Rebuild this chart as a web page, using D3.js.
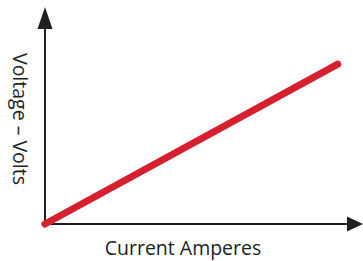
<!DOCTYPE html>
<html>
<head>
<meta charset="utf-8">
<script src="https://cdn.jsdelivr.net/npm/d3@7"></script>
<style>
  body { margin: 0; background: #fff; }
  text { font-family: "Open Sans", "Noto Sans", sans-serif; fill: #231f20; }
</style>
</head>
<body>
<svg></svg>
<script>
const size = { w: 363, h: 261 };
const margin = { t: 8, r: 13, b: 37, l: 45 };

// ohm's law line, current vs voltage (no units shown)
const current = [0, 9.6];
const voltage = [0, 7.4];
const xLabel = "Current Amperes";
const yLabel = "Voltage – Volts";

const svg = d3.select("svg").attr("width", size.w).attr("height", size.h);

const x = d3.scaleLinear().domain([0, 10]).range([margin.l, size.w - margin.r]);
const y = d3.scaleLinear().domain([0, 10]).range([size.h - margin.b, margin.t]);

const axisColor = "#231f20";
const x0 = x(0), y0 = y(0);

// axes with arrow heads
svg.append("line")
  .attr("x1", x0).attr("y1", y0 + 1)
  .attr("x2", x0).attr("y2", 22)
  .attr("stroke", axisColor).attr("stroke-width", 2);
svg.append("path")
  .attr("d", `M${x0},7 L${x0 - 7.5},29 L${x0 + 7.5},29 Z`)
  .attr("fill", axisColor);

svg.append("line")
  .attr("x1", x0 - 1).attr("y1", y0)
  .attr("x2", 352).attr("y2", y0)
  .attr("stroke", axisColor).attr("stroke-width", 2);
svg.append("path")
  .attr("d", `M363,${y0} L347,${y0 - 7.5} L347,${y0 + 7.5} Z`)
  .attr("fill", axisColor);

// the red line
const pts = current.map((c, i) => [c, voltage[i]]);
svg.append("path")
  .datum(pts)
  .attr("fill", "none")
  .attr("stroke", "#d6202f")
  .attr("stroke-width", 7)
  .attr("stroke-linecap", "round")
  .attr("d", d3.line().x(d => x(d[0])).y(d => y(d[1])));

// labels
svg.append("text")
  .attr("x", 183).attr("y", 255)
  .attr("text-anchor", "middle")
  .attr("font-size", 19.5)
  .text(xLabel);

svg.append("text")
  .attr("transform", "translate(13,119) rotate(90)")
  .attr("text-anchor", "middle")
  .attr("font-size", 19.5)
  .text(yLabel);
</script>
</body>
</html>
